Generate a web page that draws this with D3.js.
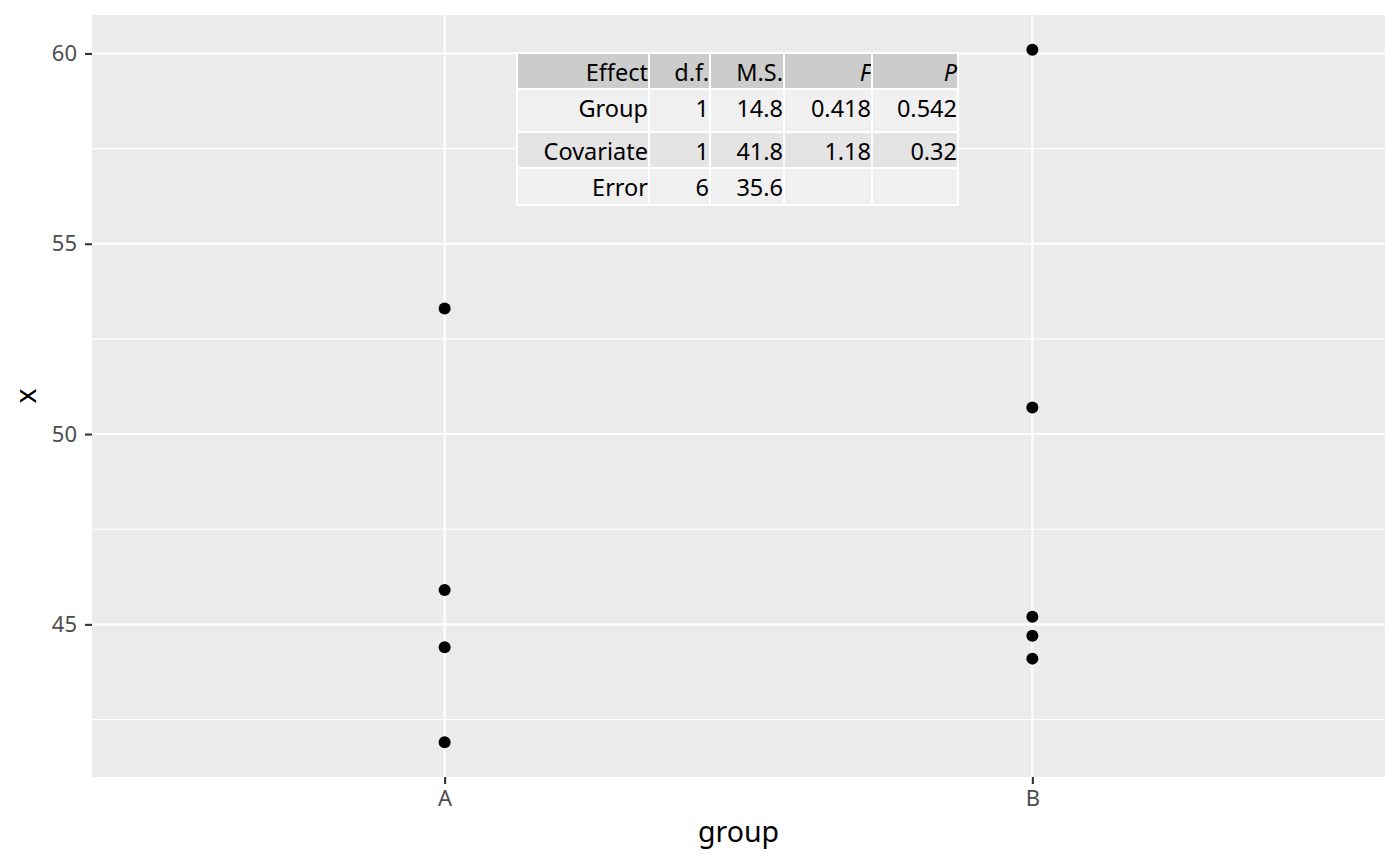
<!DOCTYPE html>
<html>
<head>
<meta charset="utf-8">
<script src="https://cdn.jsdelivr.net/npm/d3@7"></script>
<style>
  body { margin: 0; background: #fff; }
  svg { display: block; font-family: "Noto Sans", sans-serif; }
</style>
</head>
<body>
<div id="chart"></div>
<script>
// data
const groups = ["A", "B"];
const groupA = [53.3, 45.9, 44.4, 41.9];
const groupB = [60.1, 50.7, 45.2, 44.7, 44.1];
const yTicks = [45, 50, 55, 60];
const yMinor = [42.5, 47.5, 52.5, 57.5];

// ANOVA table shown inside the plot
const tableHead = ["Effect", "d.f.", "M.S.", "F", "P"];
const effects = ["Group", "Covariate", "Error"];
const df = ["1", "1", "6"];
const ms = ["14.8", "41.8", "35.6"];
const fVals = ["0.418", "1.18", ""];
const pVals = ["0.542", "0.32", ""];

const W = 1400, H = 866;
const margin = {top: 15, right: 15, bottom: 89, left: 92};
const pw = W - margin.left - margin.right;
const ph = H - margin.top - margin.bottom;

const svg = d3.select("#chart").append("svg")
    .attr("width", W)
    .attr("height", H);

const points = [];
groupA.forEach(v => points.push({g: "A", v: v}));
groupB.forEach(v => points.push({g: "B", v: v}));

// discrete x with ggplot's 0.6 expansion on each side
const x = d3.scalePoint().domain(groups).range([0, pw]).padding(0.6);
// y with 5% expansion
const ext = d3.extent(points, d => d.v);
const pad = (ext[1] - ext[0]) * 0.05;
const y = d3.scaleLinear().domain([ext[0] - pad, ext[1] + pad]).range([ph, 0]);

const g = svg.append("g").attr("transform", `translate(${margin.left},${margin.top})`);

g.append("rect")
    .attr("width", pw)
    .attr("height", ph)
    .attr("fill", "#ebebeb");

g.selectAll(".minor").data(yMinor).enter().append("line")
    .attr("x1", 0).attr("x2", pw)
    .attr("y1", d => y(d)).attr("y2", d => y(d))
    .attr("stroke", "#fff").attr("stroke-width", 1.1);

g.selectAll(".major").data(yTicks).enter().append("line")
    .attr("x1", 0).attr("x2", pw)
    .attr("y1", d => y(d)).attr("y2", d => y(d))
    .attr("stroke", "#fff").attr("stroke-width", 2.1);

g.selectAll(".vmajor").data(groups).enter().append("line")
    .attr("y1", 0).attr("y2", ph)
    .attr("x1", d => x(d)).attr("x2", d => x(d))
    .attr("stroke", "#fff").attr("stroke-width", 2.1);

// axes
const yAxis = g.append("g")
    .call(d3.axisLeft(y).tickValues(yTicks).tickSize(7).tickPadding(8));
const xAxis = g.append("g")
    .attr("transform", `translate(0,${ph})`)
    .call(d3.axisBottom(x).tickSize(7).tickPadding(6));

[yAxis, xAxis].forEach(a => {
    a.select(".domain").remove();
    a.attr("font-size", null).attr("font-family", null);
    a.selectAll(".tick line").attr("stroke", "#333").attr("stroke-width", 2.1);
    a.selectAll(".tick text")
        .attr("fill", "#4d4d4d")
        .style("font-size", "22px");
});

svg.append("text")
    .attr("x", margin.left + pw / 2)
    .attr("y", 842)
    .attr("text-anchor", "middle")
    .style("font-size", "28.5px")
    .text("group");

svg.append("text")
    .attr("transform", `translate(36,${margin.top + ph / 2}) rotate(-90)`)
    .attr("text-anchor", "middle")
    .style("font-size", "28.5px")
    .text("x");

// points
g.selectAll(".pt").data(points).enter().append("circle")
    .attr("cx", d => x(d.g))
    .attr("cy", d => y(d.v))
    .attr("r", 6)
    .attr("fill", "#000");

// table
const colW = [132, 61, 74, 88, 86];
const rowH = [36, 43, 36, 37];
const tx = 517, ty = 53;
const rows = [tableHead].concat(effects.map((e, i) => [e, df[i], ms[i], fVals[i], pVals[i]]));
const fills = ["#cccccc", "#f0f0f0", "#e4e4e4", "#f0f0f0"];

const tbl = svg.append("g").attr("transform", `translate(${tx},${ty})`);
let yy = 0;
rows.forEach((row, ri) => {
    let xx = 0;
    row.forEach((cell, ci) => {
        tbl.append("rect")
            .attr("x", xx).attr("y", yy)
            .attr("width", colW[ci]).attr("height", rowH[ri])
            .attr("fill", fills[ri])
            .attr("stroke", "#fff")
            .attr("stroke-width", 2);
        tbl.append("text")
            .attr("x", xx + colW[ci] - 1)
            .attr("y", yy + 28)
            .attr("text-anchor", "end")
            .style("font-size", "23.5px")
            .style("font-style", ri === 0 && ci >= 3 ? "italic" : "normal")
            .text(cell);
        xx += colW[ci];
    });
    yy += rowH[ri];
});
</script>
</body>
</html>
